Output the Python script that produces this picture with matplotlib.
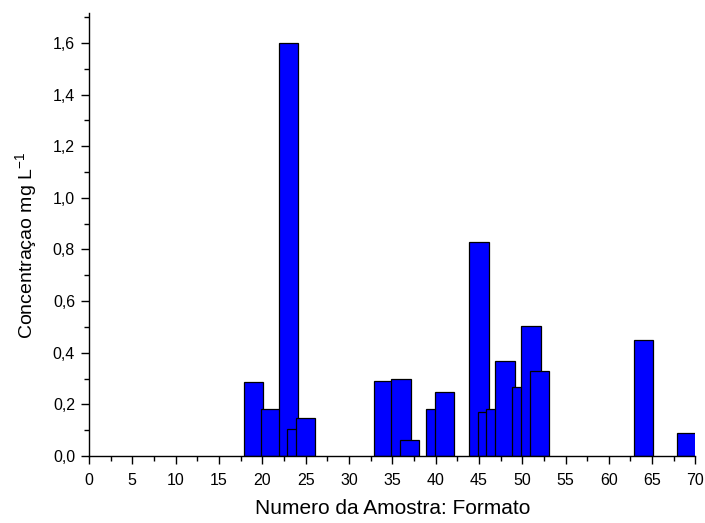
import matplotlib
matplotlib.use("Agg")
import matplotlib.pyplot as plt
from matplotlib.ticker import MultipleLocator, FixedLocator, FixedFormatter

plt.rcParams['font.family'] = ['Liberation Sans', 'DejaVu Sans']
plt.rcParams['mathtext.default'] = 'regular'

# Sample numbers and measured concentrations (mg/L)
amostra = [19, 21, 23, 24, 25, 34, 36, 37, 40, 41, 45, 46, 47, 48, 50, 51, 52, 64, 69]
concentracao = [0.285, 0.181, 1.60, 0.103, 0.146, 0.292, 0.300, 0.062, 0.181, 0.249,
                0.828, 0.169, 0.183, 0.369, 0.266, 0.502, 0.330, 0.449, 0.090]

x_ticks = list(range(0, 71, 5))
x_tick_labels = [str(v) for v in x_ticks]
y_ticks = [0.0, 0.2, 0.4, 0.6, 0.8, 1.0, 1.2, 1.4, 1.6]
y_tick_labels = ["0,0", "0,2", "0,4", "0,6", "0,8", "1,0", "1,2", "1,4", "1,6"]

fig = plt.figure(figsize=(7.05, 5.23), dpi=100)
ax = fig.add_axes([0.1262, 0.1281, 0.8603, 0.8470])

ax.bar(amostra, concentracao, width=2.24, color='#0000FF', edgecolor='black',
       linewidth=0.9, align='center')

ax.set_xlim(0, 70)
ax.set_ylim(0, 1.716)

ax.xaxis.set_major_locator(FixedLocator(x_ticks))
ax.xaxis.set_major_formatter(FixedFormatter(x_tick_labels))
ax.xaxis.set_minor_locator(MultipleLocator(2.5))
ax.yaxis.set_major_locator(FixedLocator(y_ticks))
ax.yaxis.set_major_formatter(FixedFormatter(y_tick_labels))
ax.yaxis.set_minor_locator(MultipleLocator(0.1))

for side in ('top', 'right'):
    ax.spines[side].set_visible(False)
for side in ('left', 'bottom'):
    ax.spines[side].set_linewidth(1.0)

ax.tick_params(which='major', direction='out', length=6, width=1.0, labelsize=11.5, pad=4)
ax.tick_params(axis='x', which='major', pad=6.5)
ax.tick_params(which='minor', direction='out', length=3.5, width=1.0)

ax.set_xlabel("Numero da Amostra: Formato", fontsize=15, labelpad=8)
ax.set_ylabel("Concentraçao mg L$^{-1}$", fontsize=14)
ax.yaxis.set_label_coords(-0.083, 0.475)

fig.savefig("out.png", dpi=100)
